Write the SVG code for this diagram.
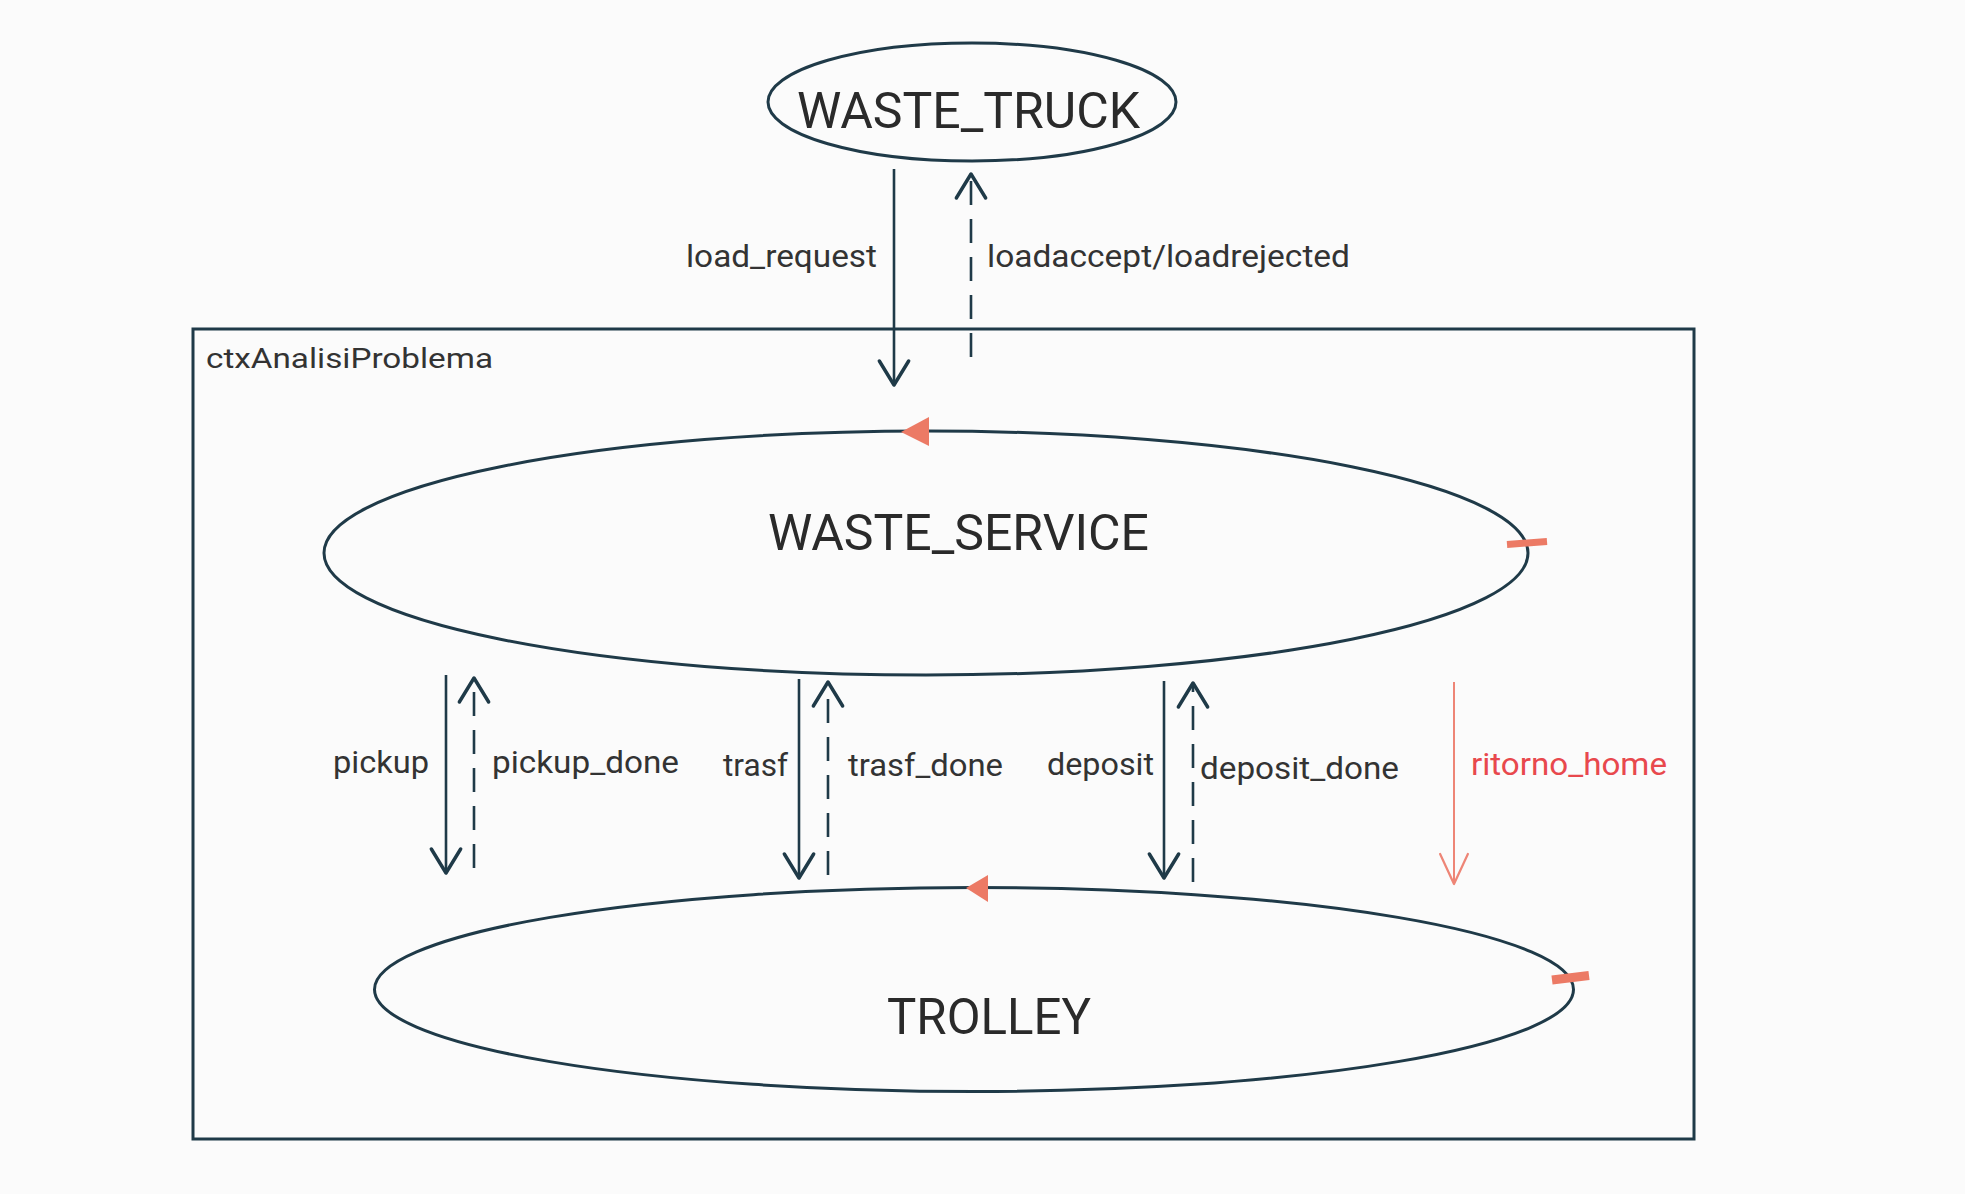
<svg xmlns="http://www.w3.org/2000/svg" width="1965" height="1194" viewBox="0 0 1965 1194">
  <style>
    .node { fill: none; stroke: #1f3a48; stroke-width: 3; }
    .big { font-family: Roboto, "Liberation Sans", sans-serif; font-size: 50px; fill: #2a2a2a; }
    .lbl { font-family: Roboto, "Liberation Sans", sans-serif; font-size: 31.5px; fill: #333333; }
    .ctx { font-family: Roboto, "Liberation Sans", sans-serif; font-size: 28px; fill: #333333; }
    .red { fill: #e8484d; }
    .conn { fill: none; stroke: #1f3a48; stroke-width: 2.6; }
    .dash { stroke-dasharray: 24 14; }
    .mark { fill: #ec7a65; }
    .bar { stroke: #ec7a65; stroke-linecap: butt; }
    .home { fill: none; stroke: #ee8576; stroke-width: 2; }
  </style>
  <defs>
    <marker id="open" markerUnits="userSpaceOnUse" markerWidth="40" markerHeight="40" viewBox="-25 -15 30 30" refX="0" refY="0" orient="auto">
      <path d="M-18,-11 L0,0 L-18,11" fill="none" stroke="#1f3a48" stroke-width="2.6" stroke-linecap="round" stroke-linejoin="round"/>
    </marker>
    <marker id="openRed" markerUnits="userSpaceOnUse" markerWidth="40" markerHeight="40" viewBox="-32 -16 36 32" refX="0" refY="0" orient="auto">
      <path d="M-27,-12.5 L0,0 L-27,12.5" fill="none" stroke="#ee8576" stroke-width="2" stroke-linecap="round" stroke-linejoin="round"/>
    </marker>
  </defs>
  <rect x="0" y="0" width="1965" height="1194" fill="#fbfbfb"/>

  <g id="ctxAnalisiProblema">
    <rect x="193" y="329" width="1501" height="810" class="node"/>
    <text class="ctx" x="206" y="368" textLength="287" lengthAdjust="spacingAndGlyphs">ctxAnalisiProblema</text>
  </g>

  <g id="WASTE_TRUCK">
    <ellipse cx="972" cy="102" rx="204" ry="59" class="node"/>
    <text class="big" x="797" y="128" textLength="343" lengthAdjust="spacingAndGlyphs">WASTE_TRUCK</text>
  </g>

  <g id="WASTE_SERVICE">
    <ellipse cx="926" cy="553" rx="602" ry="122" class="node"/>
    <text class="big" x="768" y="550" textLength="381" lengthAdjust="spacingAndGlyphs">WASTE_SERVICE</text>
    <polygon class="mark" points="901,432 929,417 929,446"/>
    <line class="bar" x1="1507" y1="544.5" x2="1547" y2="541.5" stroke-width="7"/>
  </g>

  <g id="TROLLEY">
    <ellipse cx="974" cy="989.5" rx="599.5" ry="102" class="node"/>
    <text class="big" x="887" y="1034" textLength="204" lengthAdjust="spacingAndGlyphs">TROLLEY</text>
    <polygon class="mark" points="966,888 988,875 988,902"/>
    <line class="bar" x1="1552" y1="980" x2="1589" y2="975.5" stroke-width="9"/>
  </g>

  <g id="connectors">
    <path class="conn" d="M894,169 L894,385" marker-end="url(#open)"/>
    <path class="conn dash" d="M971,357 L971,174" marker-end="url(#open)"/>
    <path class="conn" d="M446,675 L446,873" marker-end="url(#open)"/>
    <path class="conn dash" d="M474,868 L474,678" marker-end="url(#open)"/>
    <path class="conn" d="M799,679 L799,878" marker-end="url(#open)"/>
    <path class="conn dash" d="M828,875 L828,682" marker-end="url(#open)"/>
    <path class="conn" d="M1164,681 L1164,878" marker-end="url(#open)"/>
    <path class="conn dash" d="M1193,882 L1193,683" marker-end="url(#open)"/>
    <path class="home" d="M1454,682 L1454,884" marker-end="url(#openRed)"/>

    <text class="lbl" x="686" y="267" textLength="191" lengthAdjust="spacingAndGlyphs">load_request</text>
    <text class="lbl" x="987" y="267" textLength="363" lengthAdjust="spacingAndGlyphs">loadaccept/loadrejected</text>
    <text class="lbl" x="333" y="773" textLength="96" lengthAdjust="spacingAndGlyphs">pickup</text>
    <text class="lbl" x="492" y="773" textLength="187" lengthAdjust="spacingAndGlyphs">pickup_done</text>
    <text class="lbl" x="723" y="776" textLength="65" lengthAdjust="spacingAndGlyphs">trasf</text>
    <text class="lbl" x="848" y="776" textLength="155" lengthAdjust="spacingAndGlyphs">trasf_done</text>
    <text class="lbl" x="1047" y="775" textLength="107" lengthAdjust="spacingAndGlyphs">deposit</text>
    <text class="lbl" x="1200" y="779" textLength="199" lengthAdjust="spacingAndGlyphs">deposit_done</text>
    <text class="lbl red" x="1471" y="775" textLength="196" lengthAdjust="spacingAndGlyphs">ritorno_home</text>
  </g>
</svg>
